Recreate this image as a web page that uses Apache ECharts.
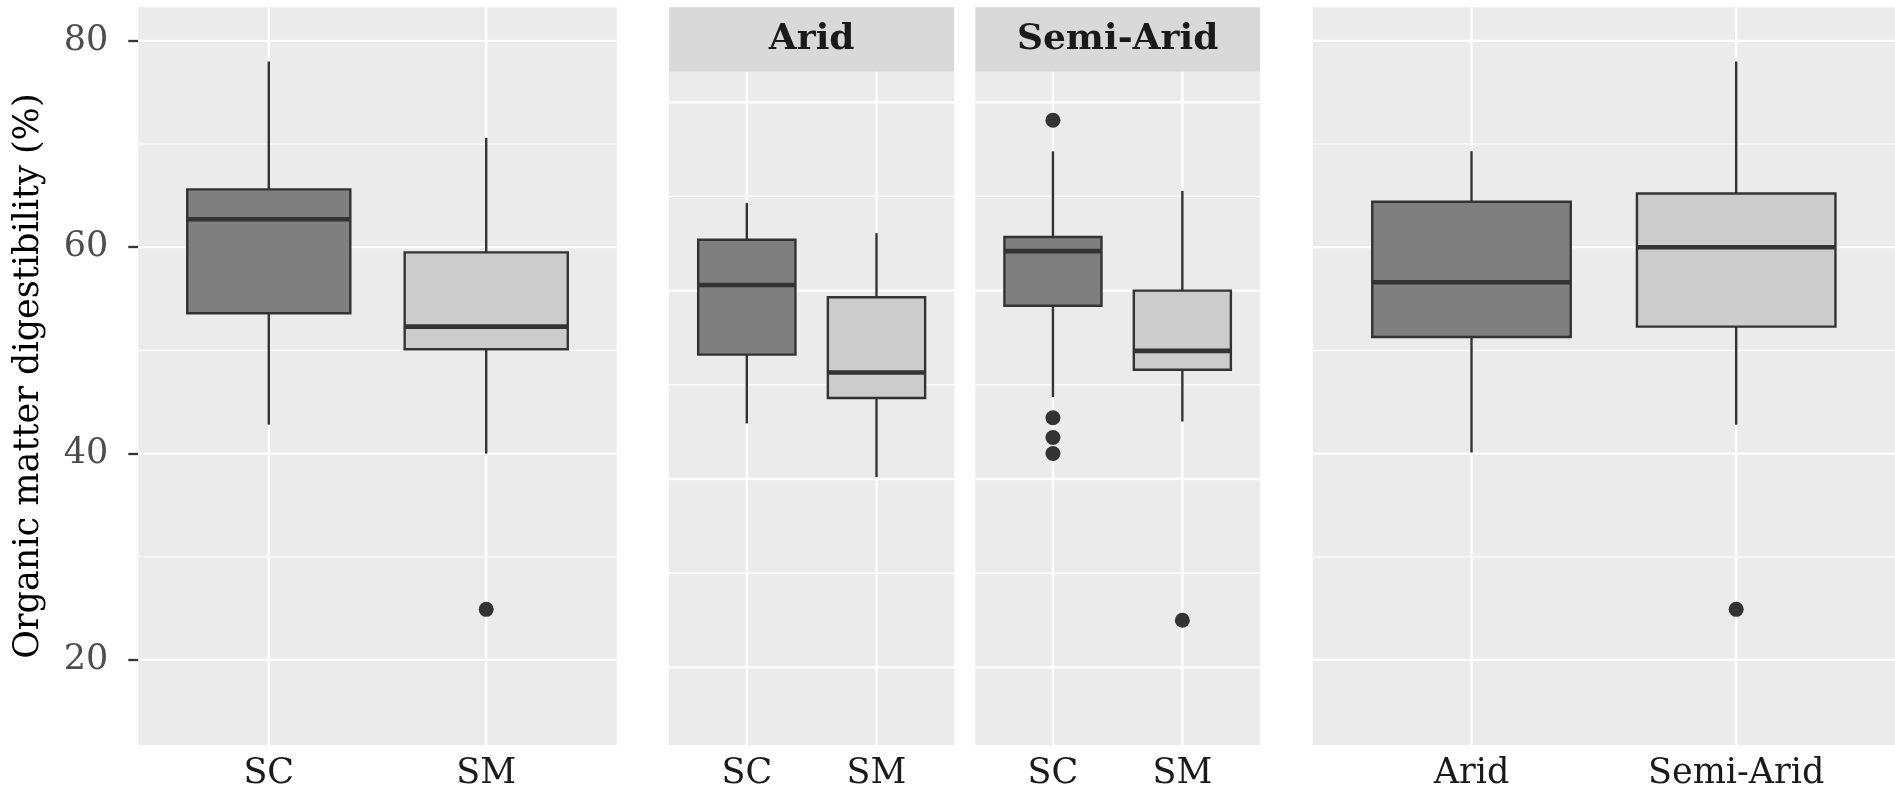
<!DOCTYPE html>
<html>
<head>
<meta charset="utf-8">
<style>
  html, body { margin: 0; padding: 0; background: #ffffff; }
  #chart { width: 1895px; height: 793px; }
</style>
<script src="https://cdn.jsdelivr.net/npm/echarts@6/dist/echarts.min.js"></script>
</head>
<body>
<div id="chart"></div>
<script>
// ---------------- DATA ----------------
const categories = ['SC', 'SM'];
const zones = ['Arid', 'Semi-Arid'];
const yTicks = [20, 40, 60, 80];
const yMinorTicks = [30, 50, 70];
const yTitle = 'Organic matter digestibility (%)';

// box statistics: [lower whisker, Q1, median, Q3, upper whisker]
const pooledSC = [42.8, 53.6, 62.7, 65.6, 78.0];
const pooledSM = [40.0, 50.1, 52.3, 59.5, 70.6];
const aridSC   = [45.9, 53.2, 60.6, 65.4, 69.3];
const aridSM   = [40.2, 48.6, 51.3, 59.3, 66.1];
const semiSC   = [48.7, 58.4, 64.2, 65.7, 74.8];
const semiSM   = [46.1, 51.6, 53.6, 60.0, 70.6];
const zoneArid = [40.1, 51.3, 56.6, 64.4, 69.3];
const zoneSemi = [42.8, 52.3, 60.0, 65.2, 78.0];

// outliers
const pooledSCOut = [];
const pooledSMOut = [24.9];
const aridSCOut = [];
const aridSMOut = [];
const semiSCOut = [78.1, 46.5, 44.4, 42.7];
const semiSMOut = [25.0];
const zoneAridOut = [];
const zoneSemiOut = [24.9];

// ---------------- STYLE / LAYOUT ----------------
const FONT = 'DejaVu Serif';
const fills = ['#7F7F7F', '#CCCCCC'];
const yMin = 11.75, yMax = 83.25;
const panels = [
  { left: 138.3, top: 7.3,  width: 478.4, height: 737.7, labels: categories, boxes: [pooledSC, pooledSM], outs: [pooledSCOut, pooledSMOut] },
  { left: 669.0, top: 71.7, width: 285.3, height: 673.3, labels: categories, boxes: [aridSC, aridSM], outs: [aridSCOut, aridSMOut], strip: zones[0] },
  { left: 975.3, top: 71.7, width: 284.7, height: 673.3, labels: categories, boxes: [semiSC, semiSM], outs: [semiSCOut, semiSMOut], strip: zones[1] },
  { left: 1312.7, top: 7.3, width: 582.3, height: 737.7, labels: zones, boxes: [zoneArid, zoneSemi], outs: [zoneAridOut, zoneSemiOut] }
];
const stripTop = 7.3, stripH = 64.4;

const grids = [], xAxes = [], yAxes = [], series = [], graphics = [];

function gridRender(params, api) {
  const cs = params.coordSys;
  const kind = api.value(0), v = api.value(1);
  if (kind === 2) {
    const x = api.coord([v, 50])[0];
    return { type: 'line', silent: true, shape: { x1: x, y1: cs.y, x2: x, y2: cs.y + cs.height },
             style: { stroke: '#FFFFFF', lineWidth: 2.3 } };
  }
  const y = api.coord([0, v])[1];
  return { type: 'line', silent: true, shape: { x1: cs.x, y1: y, x2: cs.x + cs.width, y2: y },
           style: { stroke: '#FFFFFF', lineWidth: kind === 0 ? 2.3 : 1.2 } };
}

function boxRender(params, api) {
  const x = api.value(0);
  const lo = api.coord([x, api.value(1)]);
  const q1 = api.coord([x, api.value(2)]);
  const md = api.coord([x, api.value(3)]);
  const q3 = api.coord([x, api.value(4)]);
  const hi = api.coord([x, api.value(5)]);
  const fill = fills[api.value(6)];
  const hw = api.size([0.75, 0])[0] / 2;
  const stroke = '#333333';
  return {
    type: 'group',
    children: [
      { type: 'line', shape: { x1: hi[0], y1: hi[1], x2: q3[0], y2: q3[1] }, style: { stroke, lineWidth: 2.4 } },
      { type: 'line', shape: { x1: q1[0], y1: q1[1], x2: lo[0], y2: lo[1] }, style: { stroke, lineWidth: 2.4 } },
      { type: 'rect', shape: { x: q3[0] - hw, y: q3[1], width: hw * 2, height: q1[1] - q3[1] },
        style: { fill, stroke, lineWidth: 2.4 } },
      { type: 'line', shape: { x1: md[0] - hw, y1: md[1], x2: md[0] + hw, y2: md[1] }, style: { stroke, lineWidth: 4.6 } }
    ]
  };
}

panels.forEach((p, i) => {
  grids.push({ left: p.left, top: p.top, width: p.width, height: p.height,
               show: true, backgroundColor: '#EBEBEB', borderWidth: 0, containLabel: false });
  const labs = p.labels;
  xAxes.push({
    type: 'value', gridIndex: i, min: -0.6, max: 1.6, position: 'bottom',
    axisLine: { show: false, onZero: false }, axisTick: { show: false }, splitLine: { show: false },
    axisLabel: {
      customValues: [0, 1],
      formatter: v => (Math.abs(v - Math.round(v)) < 1e-6 && labs[Math.round(v)] !== undefined) ? labs[Math.round(v)] : '',
      color: '#1A1A1A', fontFamily: FONT, fontSize: 35, margin: 11
    }
  });
  const y = {
    type: 'value', gridIndex: i, min: yMin, max: yMax, position: 'left',
    splitLine: { show: false }, axisLine: { show: false, onZero: false }
  };
  if (i === 0) {
    Object.assign(y, {
      axisTick: { show: true, length: 10, customValues: yTicks, lineStyle: { color: '#333333', width: 2.3 } },
      axisLabel: { customValues: yTicks, color: '#4D4D4D', fontFamily: FONT, fontSize: 35, margin: 30 },
      name: yTitle, nameLocation: 'middle', nameGap: 92, nameRotate: 90,
      nameTextStyle: { color: '#000000', fontFamily: FONT, fontSize: 35 }
    });
  } else {
    Object.assign(y, { axisTick: { show: false }, axisLabel: { show: false } });
  }
  yAxes.push(y);

  const gData = [];
  yTicks.forEach(v => gData.push([0, v]));
  yMinorTicks.forEach(v => gData.push([1, v]));
  labs.forEach((_, k) => gData.push([2, k]));
  series.push({ type: 'custom', xAxisIndex: i, yAxisIndex: i, z: 1, silent: true,
                renderItem: gridRender, data: gData });

  series.push({ type: 'custom', xAxisIndex: i, yAxisIndex: i, z: 3,
                renderItem: boxRender,
                data: p.boxes.map((b, k) => [k].concat(b).concat([k])) });

  const outData = [];
  p.outs.forEach((arr, k) => arr.forEach(v => outData.push([k, v])));
  series.push({ type: 'scatter', xAxisIndex: i, yAxisIndex: i, z: 4,
                symbol: 'circle', symbolSize: 15, itemStyle: { color: '#333333', opacity: 1 },
                data: outData });

  if (p.strip) {
    graphics.push({ type: 'rect', shape: { x: p.left, y: stripTop, width: p.width, height: stripH },
                    style: { fill: '#D9D9D9' }, silent: true });
    graphics.push({ type: 'text', silent: true,
                    style: { text: p.strip, x: p.left + p.width / 2, y: stripTop + stripH / 2,
                             align: 'center', verticalAlign: 'middle',
                             fontFamily: FONT, fontWeight: 'bold', fontSize: 36, fill: '#1A1A1A' } });
  }
});

const chart = echarts.init(document.getElementById('chart'), null, { renderer: 'canvas' });
chart.setOption({
  animation: false,
  backgroundColor: '#FFFFFF',
  grid: grids,
  xAxis: xAxes,
  yAxis: yAxes,
  series: series,
  graphic: graphics
});
</script>
</body>
</html>
